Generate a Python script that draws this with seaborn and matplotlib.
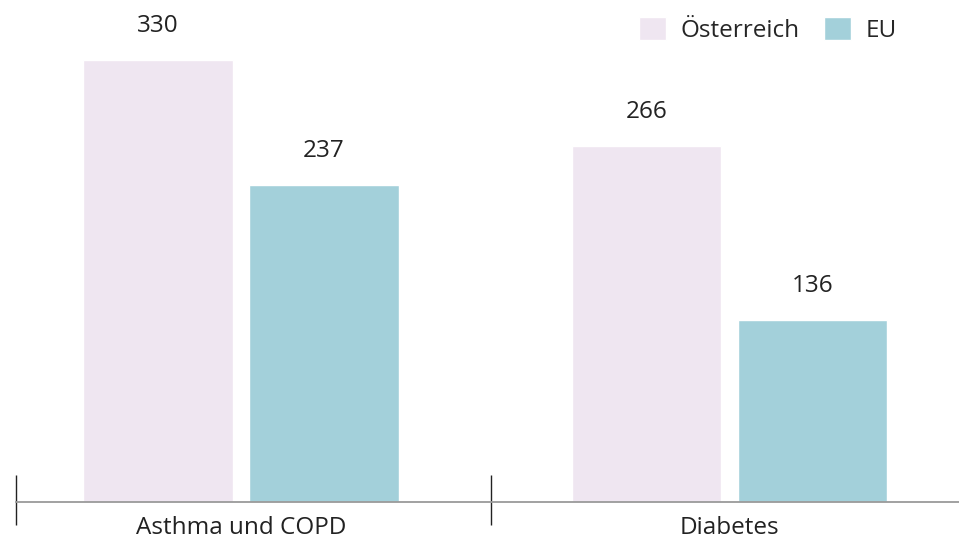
import matplotlib
matplotlib.use('Agg')
import matplotlib.pyplot as plt
import pandas as pd
import seaborn as sns

# Data
categories = ['Asthma und COPD', 'Diabetes']
oesterreich = [330, 266]
eu = [237, 136]
series_names = ['Österreich', 'EU']
colors = ['#EFE6F1', '#A3D0DA']

df = pd.DataFrame({
    'Kategorie': categories * 2,
    'Region': [series_names[0]] * len(categories) + [series_names[1]] * len(categories),
    'Wert': oesterreich + eu,
})

sns.set_theme(style='white')
plt.rcParams['font.family'] = ['Open Sans', 'DejaVu Sans']

fig = plt.figure(figsize=(9.59, 5.47), dpi=100)
ax = fig.add_axes([0, 45 / 547, 1, 502 / 547])

sns.barplot(data=df, x='Kategorie', y='Wert', hue='Region', palette=colors,
            width=0.68, gap=0.1, ax=ax, saturation=1)

ax.set_xlim(-0.493, 1.470)
ax.set_ylim(0, 375)

for cont in ax.containers:
    ax.bar_label(cont, fmt='%d', padding=16, fontsize=17.5, color='#222222')

# baseline and group separators
for s in ['top', 'right', 'left']:
    ax.spines[s].set_visible(False)
ax.spines['bottom'].set_color('#9a9a9a')
ax.spines['bottom'].set_linewidth(1.3)
ax.spines['bottom'].set_bounds(-0.46, 1.470)
ax.vlines([-0.46, 0.513], -0.046, 0.054, transform=ax.get_xaxis_transform(),
          color='#222222', linewidth=1, clip_on=False)

ax.set_yticks([])
ax.set_xlabel('')
ax.set_ylabel('')
ax.tick_params(axis='x', length=0, pad=10, labelsize=17.5, labelcolor='#222222')

ax.legend(loc='upper right', bbox_to_anchor=(0.95, 0.995), ncol=2, frameon=False,
          fontsize=17.5, handlelength=1.1, handleheight=1.1, handletextpad=0.6,
          columnspacing=1.0, borderaxespad=0.2)

fig.savefig('out.png', dpi=100)
